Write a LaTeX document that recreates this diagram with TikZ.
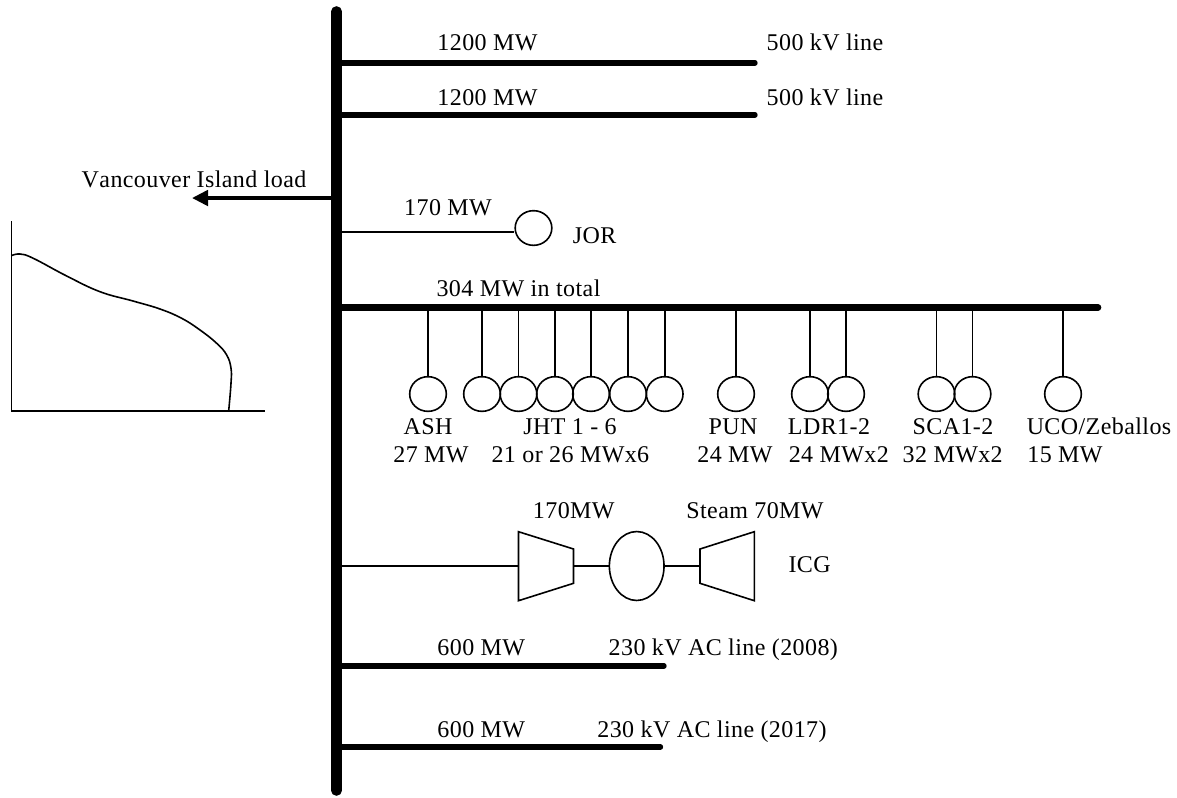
\documentclass[tikz,border=0pt]{standalone}
\usepackage{fontspec}
\setmainfont[Kerning=Off,LetterSpace=1.7]{Liberation Serif}
\usepackage{tikz}
\usetikzlibrary{shapes.geometric,arrows.meta}

\tikzset{
  lbl/.style={anchor=base,inner sep=0pt,font=\fontsize{18}{20}\selectfont},
  thickline/.style={line width=4pt,line cap=round},
  thinline/.style={line width=1.2pt},
  gen/.style={draw,ellipse,line width=1.2pt,inner sep=0pt,minimum width=27.5pt,minimum height=26pt}
}

\begin{document}
\begin{tikzpicture}[x=0.75pt,y=-0.75pt]
  \useasboundingbox (0,0) rectangle (1177,797);

  %main bus
  \coordinate (bustop) at (336.5,11.5);
  \coordinate (busbot) at (336.5,790.5);
  \draw[line width=8pt,line cap=round] (bustop) -- (busbot);

  %500 kV lines
  \coordinate (tapa) at (336,63);
  \coordinate (enda) at (755,63);
  \coordinate (tapb) at (336,115);
  \coordinate (endb) at (755,115);
  \draw[thickline] (tapa) -- (enda);
  \draw[thickline] (tapb) -- (endb);
  \node[lbl] (mwa) at (487.5,50) {1200 MW};
  \node[lbl] (mwb) at (487.5,105) {1200 MW};
  \node[lbl] (kva) at (825,50) {500 kV line};
  \node[lbl] (kvb) at (825,105) {500 kV line};

  %load arrow
  \coordinate (tapload) at (336,198);
  \coordinate (endload) at (192,198);
  \draw[line width=2.8pt,-{Triangle[length=12pt,width=11.5pt]}] (tapload) -- (endload);
  \node[lbl] (load) at (194,187) {Vancouver Island load};

  %load curve
  \draw[line width=0.8pt] (11.5,221) -- (11.5,411) -- (265,411);
  \draw[thinline] plot[smooth,tension=0.7] coordinates {(11.3,255.7) (20,254) (33.3,258.3) (66.7,276)
    (100,291.7) (133,301) (160,309) (181.7,318.3) (200,330) (216.7,343.3) (226.7,355) (231,368.3)
    (231,383.3) (228.7,410.7)};

  %JOR
  \coordinate (tapjor) at (336,232);
  \node[gen] (jor) at (533.5,228) {};
  \draw[thinline] (tapjor) -- (jor.west |- tapjor);
  \node[lbl] (mwjor) at (448,215) {170 MW};
  \node[lbl] (namejor) at (594.7,243) {JOR};

  %304 MW feeder
  \coordinate (tapfeed) at (336,307.5);
  \coordinate (endfeed) at (1098,307.5);
  \draw[line width=5pt,line cap=round] (tapfeed) -- (endfeed);
  \node[lbl] (mwfeed) at (518.5,296.5) {304 MW in total};

  \foreach \name/\x in {ash/428,jhta/482,jhtb/518.5,jhtc/555,jhtd/591,jhte/628,jhtf/664.7,
    pun/736,ldra/810,ldrb/846,scaa/936.5,scab/972.5,uco/1063}{
    \node[gen] (\name) at (\x,394) {};
    \draw[thinline] (\x,307.5) -- (\name);
  }

  \node[lbl] (nameash) at (428,434) {ASH};
  \node[lbl] (mwash) at (431,462) {27 MW};
  \node[lbl] (namejht) at (570,434) {JHT 1 - 6};
  \node[lbl] (mwjht) at (570.4,462) {21 or 26 MWx6};
  \node[lbl] (namepun) at (733,434) {PUN};
  \node[lbl] (mwpun) at (735,462) {24 MW};
  \node[lbl] (nameldr) at (829,434) {LDR1-2};
  \node[lbl] (mwldr) at (838.8,462) {24 MWx2};
  \node[lbl] (namesca) at (953,434) {SCA1-2};
  \node[lbl] (mwsca) at (952.7,462) {32 MWx2};
  \node[lbl] (nameuco) at (1099,434) {UCO/Zeballos};
  \node[lbl] (mwuco) at (1065,462) {15 MW};

  %ICG
  \coordinate (tapicg) at (336,566);
  \coordinate (gasin) at (518.5,566);
  \coordinate (gasout) at (573.5,566);
  \coordinate (steamin) at (700,566);
  \node[gen,minimum width=41pt,minimum height=51.7pt] (icg) at (636.7,566) {};
  \draw[thinline] (518.5,531.7) -- (573.5,549) -- (573.5,583.3) -- (518.5,600.7) -- cycle;
  \draw[thinline] (754.3,531.7) -- (700,549) -- (700,583.3) -- (754.3,600.7) -- cycle;
  \draw[thinline] (tapicg) -- (gasin);
  \draw[thinline] (gasout) -- (icg);
  \draw[thinline] (icg) -- (steamin);
  \node[lbl] (mwgas) at (573.8,518) {170MW};
  \node[lbl] (mwsteam) at (755,518) {Steam 70MW};
  \node[lbl] (nameicg) at (809.6,572.7) {ICG};

  %230 kV lines
  \coordinate (tapc) at (336,666);
  \coordinate (endc) at (664,666);
  \coordinate (tapd) at (336,747);
  \coordinate (endd) at (660.5,747);
  \draw[thickline] (tapc) -- (endc);
  \draw[thickline] (tapd) -- (endd);
  \node[lbl] (mwc) at (481.3,655) {600 MW};
  \node[lbl] (mwd) at (481.3,737) {600 MW};
  \node[lbl] (kvc) at (723.3,655) {230 kV AC line (2008)};
  \node[lbl] (kvd) at (712,737) {230 kV AC line (2017)};
\end{tikzpicture}
\end{document}
